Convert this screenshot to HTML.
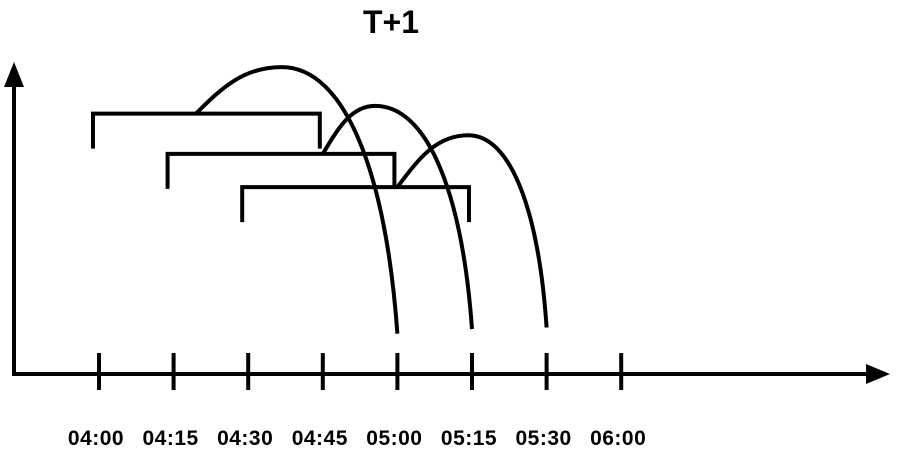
<!DOCTYPE html>
<html><head><meta charset="utf-8"><style>
html,body{margin:0;padding:0;background:#fff;}
svg{display:block;font-family:"Liberation Sans",Arial,sans-serif;}
.lbl{font-size:21px;font-weight:bold;letter-spacing:0.5px;}
.ttl{font-size:32px;font-weight:bold;}
</style></head><body>
<svg id="chart" width="898" height="454">
<text class="ttl" x="391" y="33" text-anchor="middle">T+1</text>
<g id="axes"></g>
<g id="marks"></g>
</svg>
<script>
const categories = ["04:00","04:15","04:30","04:45","05:00","05:15","05:30","06:00"];
const bracketStart = [0, 1, 2];
const bracketEnd = [3, 4, 5];
const bracketLevel = [84, 71, 60.3];
const arcStart = [1.3, 3, 4];
const arcPeakX = [2.45, 3.7, 4.95];
const arcPeakY = [99, 86.5, 77];
const arcEnd = [4, 5, 6];
const arcEndY = [13, 14.5, 15];

const NS = "http://www.w3.org/2000/svg";
const xS = i => 99 + i * 74.6;
const yS = v => 374 - v * 3.1;
function mk(tag, attrs, parent){const e=document.createElementNS(NS,tag);for(const k in attrs)e.setAttribute(k,attrs[k]);parent.appendChild(e);return e;}
const axes = document.getElementById('axes');
const marks = document.getElementById('marks');
const st = {stroke:"#000","stroke-width":4,fill:"none"};

let e = mk('line',Object.assign({x1:14,y1:376,x2:14,y2:80},st),axes);


e = mk('polygon',{points:"14,62 4,87 24,87",fill:"#000"},axes);


e = mk('line',Object.assign({x1:12,y1:374,x2:872,y2:374},st),axes);


e = mk('polygon',{points:"890,374 866,364 866,384",fill:"#000"},axes);



categories.forEach((c,i)=>{
  const t = mk('line',Object.assign({x1:xS(i),y1:353,x2:xS(i),y2:390},st),axes);
  
  
  const l = mk('text',{x:xS(i)-3,y:445,"text-anchor":"middle","class":"lbl"},axes);
  l.textContent = c;
  
  
});

bracketStart.forEach((s,i)=>{
  const x1=xS(s)-6, x2=xS(bracketEnd[i])-3, y=yS(bracketLevel[i]), yb=y+35;
  const p = mk('path',Object.assign({d:`M${x1},${yb} L${x1},${y} L${x2},${y} L${x2},${yb}`},st),marks);
  
  
});

arcStart.forEach((s,i)=>{
  const sx=xS(s), sy=yS(bracketLevel[i]);
  const px=xS(arcPeakX[i]), py=yS(arcPeakY[i]);
  const ex=xS(arcEnd[i]), ey=yS(arcEndY[i]);
  const d=`M${sx},${sy} C${sx+0.3*(px-sx)},${sy-0.55*(sy-py)} ${px-0.45*(px-sx)},${py} ${px},${py} C${px+0.55*(ex-px)},${py} ${ex-0.1*(ex-px)},${ey-0.6*(ey-py)} ${ex},${ey}`;
  const p = mk('path',Object.assign({d:d},st),marks);
  
  
});
</script>
</body></html>
